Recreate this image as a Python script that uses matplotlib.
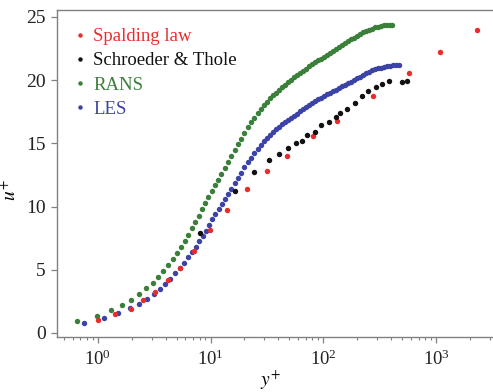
import numpy as np
import matplotlib
matplotlib.use("Agg")
import matplotlib.pyplot as plt
from matplotlib.lines import Line2D
from matplotlib.ticker import LogLocator, LogFormatterMathtext, NullFormatter, MultipleLocator

plt.rcParams['font.family'] = ['Liberation Serif', 'DejaVu Serif']
plt.rcParams['mathtext.fontset'] = 'stix'

# Spalding law of the wall
spalding_yplus = [1.01, 1.42, 1.97, 2.54, 3.22, 4.23, 5.37, 7.18, 9.90, 13.9, 20.9,
                  31.9, 47.4, 81.5, 132, 276, 571, 1089, 2306]
spalding_uplus = [1.00, 1.53, 1.90, 2.59, 3.27, 4.22, 5.14, 6.51, 8.15, 9.73, 11.37,
                  12.82, 13.98, 15.56, 16.77, 18.73, 20.55, 22.21, 24.0]

# Schroeder & Thole measurements
st_yplus = [8.07, 16.5, 24.3, 33.2, 40.3, 48.9, 56.7, 64.1, 72.4, 84.8, 95.1, 113.0,
            129.6, 140.6, 163.3, 192.9, 218.8, 250.5, 291.5, 330.2, 378.6, 498.9, 552]
st_uplus = [7.93, 11.26, 12.70, 13.65, 14.12, 14.61, 15.03, 15.15, 15.65, 15.90, 16.48,
            16.72, 17.06, 17.37, 17.71, 18.22, 18.77, 19.15, 19.42, 19.68, 19.95, 19.88, 19.94]

# RANS profile
rans_yplus = [0.659, 0.99, 1.32, 1.65, 1.99, 2.34, 2.70, 3.07, 3.43, 3.82, 4.20, 4.62,
              5.01, 5.44, 5.91, 6.35, 6.86, 7.33, 7.85, 8.41, 9.00, 9.57, 10.25, 10.96,
              11.65, 12.47, 13.34, 14.27, 15.26, 16.32, 17.46, 18.67, 19.97, 21.37,
              22.86, 24.45, 26.16, 27.98, 29.81, 31.69, 33.69, 35.82, 38.08, 40.49,
              43.05, 45.77, 48.66, 51.73, 54.99, 58.46, 62.15, 66.07, 70.24, 74.68,
              79.39, 84.40, 89.73, 95.40, 101.4, 107.8, 114.6, 121.9, 129.6, 137.8,
              146.5, 155.7, 165.6, 176.0, 187.2, 199.0, 211.5, 224.9, 239.0, 254.2,
              270.2, 287.3, 305.4, 324.7, 345.2, 367.0, 390.2, 406.4]
rans_uplus = [0.93, 1.37, 1.80, 2.22, 2.63, 3.09, 3.54, 3.98, 4.45, 4.93, 5.40, 5.88,
              6.35, 6.83, 7.30, 7.78, 8.28, 8.76, 9.23, 9.79, 10.31, 10.76, 11.23, 11.71,
              12.10, 12.57, 13.04, 13.50, 13.98, 14.45, 14.91, 15.38, 15.82, 16.27,
              16.68, 17.04, 17.39, 17.74, 18.05, 18.31, 18.55, 18.81, 19.02, 19.23,
              19.45, 19.65, 19.84, 20.03, 20.21, 20.40, 20.57, 20.75, 20.92, 21.08,
              21.25, 21.41, 21.56, 21.71, 21.87, 22.02, 22.17, 22.33, 22.48, 22.63,
              22.78, 22.94, 23.09, 23.23, 23.37, 23.50, 23.63, 23.77, 23.88, 23.98,
              24.07, 24.17, 24.22, 24.27, 24.33, 24.35, 24.37, 24.38]

# LES profile
les_yplus = [0.757, 1.14, 1.52, 1.93, 2.32, 2.72, 3.14, 3.55, 3.98, 4.41, 4.88, 5.33,
             5.82, 6.31, 6.85, 7.39, 7.96, 8.53, 9.13, 9.70, 10.4, 11.0, 11.8, 12.6,
             13.4, 14.2, 15.1, 16.32, 17.46, 18.67, 19.97, 21.37, 22.86, 24.45, 26.16,
             27.98, 29.81, 31.69, 33.69, 35.82, 38.08, 40.49, 43.05, 45.77, 48.66,
             51.73, 54.99, 58.46, 62.15, 66.07, 70.24, 74.68, 79.39, 84.40, 89.73,
             95.40, 101.4, 107.8, 114.6, 121.9, 129.6, 137.8, 146.5, 155.7, 165.6,
             176.0, 187.2, 199.0, 211.5, 224.9, 239.0, 254.2, 270.2, 287.3, 305.4,
             324.7, 345.2, 367.0, 390.2, 414.9, 441.0, 464.2]
les_uplus = [0.81, 1.21, 1.56, 1.95, 2.32, 2.69, 3.08, 3.50, 3.90, 4.30, 4.72, 5.14,
             5.56, 5.99, 6.41, 6.83, 7.25, 7.67, 8.09, 8.57, 9.00, 9.41, 9.83, 10.2,
             10.6, 11.0, 11.37, 11.86, 12.28, 12.69, 13.09, 13.49, 13.87, 14.22, 14.56,
             14.87, 15.17, 15.43, 15.66, 15.90, 16.12, 16.32, 16.52, 16.72, 16.88,
             17.03, 17.19, 17.36, 17.53, 17.70, 17.86, 18.04, 18.19, 18.33, 18.47,
             18.62, 18.74, 18.88, 19.01, 19.14, 19.26, 19.40, 19.52, 19.64, 19.75,
             19.88, 20.01, 20.14, 20.28, 20.41, 20.55, 20.68, 20.78, 20.86, 20.93,
             21.00, 21.05, 21.10, 21.15, 21.16, 21.17, 21.17]

C_RED = '#ec2b2b'
C_BLACK = '#111111'
C_GREEN = '#3a7f3a'
C_BLUE = '#3b43a6'
GREY = '#808080'

fig = plt.figure(figsize=(4.93, 3.92), dpi=100)
ax = fig.add_axes([0.1156, 0.1403, 0.8844, 0.8342])

ms = 3.9
ax.plot(rans_yplus, rans_uplus, 'o', ms=ms, mec='none', mfc=C_GREEN, zorder=2)
ax.plot(les_yplus, les_uplus, 'o', ms=ms, mec='none', mfc=C_BLUE, zorder=3)
ax.plot(spalding_yplus, spalding_uplus, 'o', ms=ms, mec='none', mfc=C_RED, zorder=4)
ax.plot(st_yplus, st_uplus, 'o', ms=ms, mec='none', mfc=C_BLACK, zorder=5)

ax.set_xscale('log')
ax.set_xlim(0.4356, 3194)
ax.set_ylim(-0.32, 25.55)

ax.xaxis.set_major_locator(LogLocator(base=10, numticks=10))
ax.xaxis.set_major_formatter(LogFormatterMathtext())
ax.xaxis.set_minor_locator(LogLocator(base=10, subs=np.arange(2, 10), numticks=20))
ax.xaxis.set_minor_formatter(NullFormatter())
ax.yaxis.set_major_locator(MultipleLocator(5))

for side in ('left', 'bottom', 'top'):
    ax.spines[side].set_color(GREY)
    ax.spines[side].set_linewidth(1.0)
ax.spines['right'].set_visible(False)

ax.tick_params(axis='both', which='major', direction='out', length=4, width=0.9,
               color=GREY, labelsize=14, labelcolor='#222222')
ax.tick_params(axis='x', which='minor', direction='out', length=2.5, width=0.8, color=GREY)
ax.tick_params(axis='x', which='major', pad=5, labelsize=13.5)
ax.tick_params(axis='y', which='major', pad=4)
ax.tick_params(top=False, right=False, which='both')

ax.set_xlabel(r'$y^{+}$', fontsize=14)
ax.set_ylabel(r'$u^{+}$', fontsize=14)
ax.xaxis.set_label_coords(0.489, -0.095)
ax.yaxis.set_label_coords(-0.085, 0.45)

labels = ['Spalding law', 'Schroeder & Thole', 'RANS', 'LES']
colors = [C_RED, C_BLACK, C_GREEN, C_BLUE]
handles = [Line2D([], [], ls='none', marker='o', ms=3.2, mec='none', mfc=c) for c in colors]
leg = ax.legend(handles, labels, loc='upper left', bbox_to_anchor=(0.031, 0.944),
                frameon=False, fontsize=13.5, borderpad=0, borderaxespad=0,
                handlelength=1.0, handletextpad=0.2, labelspacing=0.37,
                labelcolor=colors)

fig.savefig('out.png', dpi=100, facecolor='white')
